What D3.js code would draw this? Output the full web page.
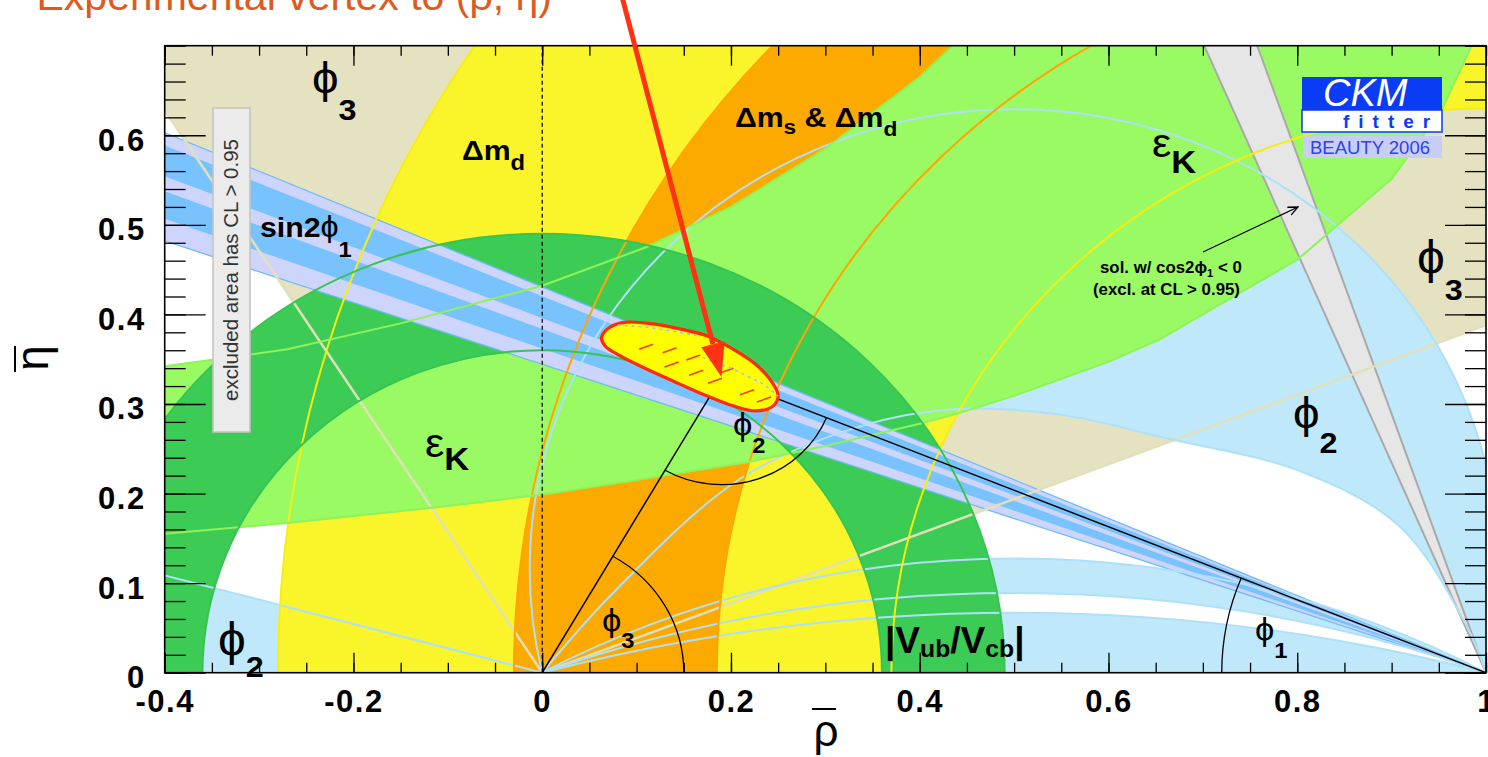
<!DOCTYPE html>
<html>
<head>
<meta charset="utf-8">
<script src="https://cdn.jsdelivr.net/npm/d3@7"></script>
<style>
html, body { margin: 0; padding: 0; background: #fff; }
svg { display: block; }
text { font-family: "Liberation Sans", Arial, Helvetica, sans-serif; }
</style>
</head>
<body>
<svg id="chart" width="1488" height="757"></svg>
<script>
// ---- axes ----
const rhoRange = [-0.4, 1.0];
const etaRange = [0, 0.7];
const rhoTicks = [-0.4, -0.2, 0, 0.2, 0.4, 0.6, 0.8, 1];
const rhoTickLabels = ["-0.4", "-0.2", "0", "0.2", "0.4", "0.6", "0.8", "1"];
const etaTicks = [0, 0.1, 0.2, 0.3, 0.4, 0.5, 0.6];
const etaTickLabels = ["0", "0.1", "0.2", "0.3", "0.4", "0.5", "0.6"];

// ---- constraints ----
const apex = [0.19, 0.33];
const dmdRadii = [0.63, 1.28];          // Δmd, around (1,0)
const dmsRadii = [0.815, 1.03];         // Δms & Δmd, around (1,0)
const vubRadii = [0.36, 0.49];          // |Vub/Vcb|, around (0,0)
const gammaRays = [21.2, 122.5];        // φ3, degrees from (0,0)
const alphaOuter = 0.629;               // φ2 big region, outer circle height at rho=0.5
const alphaInner = [[0, 0], [0.075, 0.089], [0.209, 0.216], [0.337, 0.275], [0.435, 0.294], [0.55, 0.288],
  [0.66, 0.262], [0.803, 0.225], [0.909, 0.163], [0.98, 0.051], [1, 0]];
const alphaLunes = [[0.089, 0.1275], [0, 0.067]]; // φ2 thin regions, heights at rho=0.5
const alphaWedge = [164.8, 180];        // φ2, degrees from (0,0)
const sin2b95 = [19.0, 23.3];           // sin2φ1, degrees from (1,0)
const sin2b68 = [19.9, 22.8];
const sin2bCore = [21.0, 21.6];
const sin2bAlt = [66.9, 70.9];          // cos2φ1 < 0 solution
const epsKUpper = [[-0.45, 0.335], [-0.4, 0.342], [-0.27, 0.361], [-0.15, 0.39], [0, 0.432], [0.11, 0.475],
  [0.2, 0.52], [0.3, 0.585], [0.4, 0.665], [0.44, 0.705]];
const epsKLower = [[-0.45, 0.15], [-0.4, 0.155], [-0.27, 0.167], [-0.1, 0.186], [0.008, 0.2], [0.1, 0.215],
  [0.217, 0.235], [0.3, 0.253], [0.4, 0.278], [0.442, 0.29], [0.5, 0.309], [0.6, 0.347], [0.654, 0.372],
  [0.7, 0.40], [0.8, 0.461], [0.842, 0.499], [0.9, 0.551], [0.953, 0.628], [0.985, 0.70], [1.0, 0.725]];
const fitContour = [[0.0629, 0.3745], [0.0717, 0.3857], [0.0894, 0.3913], [0.1176, 0.3894], [0.1459, 0.3838],
  [0.1742, 0.3763], [0.1988, 0.3633], [0.2235, 0.3465], [0.2412, 0.3278], [0.25, 0.3091], [0.2447, 0.2979],
  [0.2271, 0.2923], [0.2023, 0.2979], [0.1742, 0.3091], [0.1459, 0.3222], [0.1106, 0.339], [0.0823, 0.3539],
  [0.0664, 0.3651]];
const fitRedDashes = [[0.11, 0.364], [0.135, 0.360], [0.16, 0.352], [0.195, 0.337], [0.137, 0.344],
  [0.163, 0.335], [0.183, 0.326], [0.217, 0.313], [0.235, 0.305]];
const fitBlueUpper = [[0.08, 0.388], [0.11, 0.386], [0.14, 0.381], [0.165, 0.376]];
const fitBlueLower = [[0.17, 0.352], [0.2, 0.34], [0.235, 0.322], [0.25, 0.309]];
const arcRadii = { phi1: 0.28, phi2: 0.12, phi3: 0.15 };
const arrowStart = [0.084, 0.757];

const plot = { left: 164.7, right: 1486, top: 45.7, bottom: 672.7 };
const svg = d3.select("#chart");

const x = d3.scaleLinear().domain(rhoRange).range([plot.left, plot.right]);
const y = d3.scaleLinear().domain(etaRange).range([plot.bottom, plot.top]);
const kx = x(1) - x(0), ky = y(0) - y(1);
const line = d3.line().x(d => x(d[0])).y(d => y(d[1]));
const smooth = d3.line().x(d => x(d[0])).y(d => y(d[1])).curve(d3.curveCatmullRom);
const rad = Math.PI / 180;

function circ(cx, cy, r) {
  const X = x(cx), Y = y(cy), rx = r * kx, ry = r * ky;
  return `M${X + rx},${Y}A${rx},${ry} 0 1 0 ${X - rx},${Y}A${rx},${ry} 0 1 0 ${X + rx},${Y}Z`;
}
// circle through (0,0) and (1,0) with height h at rho = 0.5
function alphaCircle(h) {
  const c = (h * h - 0.25) / (2 * h);
  return circ(0.5, c, h - c);
}
function ray(v, a, R) { return [v[0] + R * Math.cos(a * rad), v[1] + R * Math.sin(a * rad)]; }
function wedge(v, a1, a2) {
  return line([v, ray(v, a1, 4), ray(v, (a1 + a2) / 2, 4), ray(v, a2, 4)]) + "Z";
}
// angles measured from the -rho direction at (1,0)
function wedgeB(a) { return wedge([1, 0], 180 - a[1], 180 - a[0]); }
function arcPath(c, r, a0, a1) {
  const p0 = ray(c, a0, r), p1 = ray(c, a1, r);
  const sweep = a1 > a0 ? 0 : 1, large = Math.abs(a1 - a0) > 180 ? 1 : 0;
  return `M${x(p0[0])},${y(p0[1])}A${r * kx},${r * ky} 0 ${large} ${sweep} ${x(p1[0])},${y(p1[1])}`;
}

svg.append("clipPath").attr("id", "plotclip").append("rect")
  .attr("x", plot.left).attr("y", plot.top)
  .attr("width", plot.right - plot.left).attr("height", plot.bottom - plot.top);

const g = svg.append("g").attr("clip-path", "url(#plotclip)");

//φ3 wedge
g.append("path").attr("d", wedge([0, 0], gammaRays[0], gammaRays[1])).attr("fill", "#e5e2c1");
//φ2 regions
g.append("path").attr("d", wedge([0, 0], alphaWedge[0], alphaWedge[1])).attr("fill", "#bfe9fb");
g.append("path").attr("d", alphaCircle(alphaOuter) + smooth(alphaInner) + "Z")
  .attr("fill", "#bfe9fb").attr("fill-rule", "evenodd");
alphaLunes.forEach(l => {
  g.append("path").attr("d", alphaCircle(l[1]) + (l[0] > 0 ? alphaCircle(l[0]) : ""))
    .attr("fill", "#bfe9fb").attr("fill-rule", "evenodd");
});
//Δmd and Δms
g.append("path").attr("d", circ(1, 0, dmdRadii[1]) + circ(1, 0, dmdRadii[0]))
  .attr("fill", "#f9f52a").attr("fill-rule", "evenodd");
g.append("path").attr("d", circ(1, 0, dmsRadii[1]) + circ(1, 0, dmsRadii[0]))
  .attr("fill", "#fdaa00").attr("fill-rule", "evenodd");
//εK band
const epsPoly = epsKUpper.concat([[0.44, 0.76], [1.05, 0.76]], epsKLower.slice().reverse());
g.append("path").attr("d", line(epsPoly) + "Z").attr("fill", "#9afa64");
//|Vub/Vcb|
g.append("path").attr("d", circ(0, 0, vubRadii[1]) + circ(0, 0, vubRadii[0]))
  .attr("fill", "#3ccc55").attr("fill-rule", "evenodd");
//sin2φ1
g.append("path").attr("d", wedgeB(sin2b95)).attr("fill", "#cdd5fd");
g.append("path").attr("d", wedgeB(sin2b68)).attr("fill", "#78c2fd");
g.append("path").attr("d", wedgeB(sin2bCore)).attr("fill", "#cdd5fd");
g.append("path").attr("d", wedgeB(sin2bAlt)).attr("fill", "#e6e6e6");

//contours
function stroke(d, color, w) {
  g.append("path").attr("d", d).attr("fill", "none").attr("stroke", color).attr("stroke-width", w);
}
sin2b95.forEach(a => stroke(line([[1, 0], ray([1, 0], 180 - a, 4)]), "#6fbaf8", 1.3));
sin2bAlt.forEach(a => stroke(line([[1, 0], ray([1, 0], 180 - a, 4)]), "#a9a9a9", 2));
gammaRays.forEach(a => stroke(line([[0, 0], ray([0, 0], a, 4)]), "#e2dfbb", 2.5));
stroke(line([[0, 0], ray([0, 0], alphaWedge[0], 4)]), "#aee0f7", 2);
stroke(alphaCircle(alphaOuter), "#aee0f7", 2);
stroke(smooth(alphaInner), "#aee0f7", 2);
alphaLunes.forEach(l => l.forEach(h => { if (h > 0) stroke(alphaCircle(h), "#aee0f7", 2); }));
dmdRadii.forEach(r => stroke(circ(1, 0, r), "#f6ee10", 2));
dmsRadii.forEach(r => stroke(circ(1, 0, r), "#ffa500", 2));
stroke(line(epsKUpper), "#8ef25a", 2);
stroke(line(epsKLower), "#8ef25a", 2);
vubRadii.forEach(r => stroke(circ(0, 0, r), "#38c452", 2));

//unitarity triangle
stroke(line([[0, 0], apex, [1, 0]]), "#000", 1.5);
stroke(arcPath([0, 0], arcRadii.phi3, 0, Math.atan2(apex[1], apex[0]) / rad), "#000", 1.3);
stroke(arcPath(apex, arcRadii.phi2, 360 + Math.atan2(-apex[1], -apex[0]) / rad,
  360 + Math.atan2(-apex[1], 1 - apex[0]) / rad), "#000", 1.3);
stroke(arcPath([1, 0], arcRadii.phi1, 180, 180 - Math.atan2(apex[1], 1 - apex[0]) / rad), "#000", 1.3);

//fit result
g.append("path").attr("d", d3.line().x(d => x(d[0])).y(d => y(d[1])).curve(d3.curveCatmullRomClosed)(fitContour))
  .attr("fill", "#ffff00").attr("stroke", "#ff2a00").attr("stroke-width", 3.2);
g.selectAll(".rd").data(fitRedDashes).enter().append("line")
  .attr("x1", d => x(d[0]) - 7).attr("y1", d => y(d[1]) + 2.5)
  .attr("x2", d => x(d[0]) + 7).attr("y2", d => y(d[1]) - 2.5)
  .attr("stroke", "#ff3a00").attr("stroke-width", 1.6);
[fitBlueUpper, fitBlueLower].forEach(p => {
  g.append("path").attr("d", line(p)).attr("fill", "none").attr("stroke", "#8ccbec")
    .attr("stroke-width", 1.6).attr("stroke-dasharray", "3 4");
});

//rho = 0 dashed line
svg.append("line").attr("x1", x(0)).attr("x2", x(0)).attr("y1", y(0)).attr("y2", y(0.7))
  .attr("stroke", "#000").attr("stroke-width", 1.2).attr("stroke-dasharray", "4 3");

// ---- axes ----
function styleAxis(sel) {
  sel.select(".domain").remove();
  sel.selectAll(".tick line").attr("stroke", "#000").attr("stroke-width", 1.3);
  sel.selectAll("text").attr("font-family", "Liberation Sans, Arial, sans-serif")
    .attr("font-weight", "bold").attr("font-size", 31).attr("letter-spacing", 1.5).attr("fill", "#000");
}
const minorRho = x.ticks(28), minorEta = y.ticks(35);
svg.append("g").attr("transform", `translate(0,${plot.bottom})`)
  .call(d3.axisBottom(x).tickValues(minorRho).tickSize(-10).tickFormat("")).call(styleAxis);
svg.append("g").attr("transform", `translate(0,${plot.bottom})`)
  .call(d3.axisBottom(x).tickValues(rhoTicks).tickSize(-20).tickPadding(17)
    .tickFormat((d, i) => rhoTickLabels[i])).call(styleAxis);
svg.append("g").attr("transform", `translate(0,${plot.top})`)
  .call(d3.axisTop(x).tickValues(minorRho).tickSize(-10).tickFormat("")).call(styleAxis);
svg.append("g").attr("transform", `translate(0,${plot.top})`)
  .call(d3.axisTop(x).tickValues(rhoTicks).tickSize(-20).tickFormat("")).call(styleAxis);
svg.append("g").attr("transform", `translate(${plot.left},0)`)
  .call(d3.axisLeft(y).tickValues(minorEta).tickSize(-21).tickFormat("")).call(styleAxis);
const yAx = svg.append("g").attr("transform", `translate(${plot.left},0)`)
  .call(d3.axisLeft(y).tickValues(etaTicks).tickSize(-41).tickPadding(19)
    .tickFormat((d, i) => etaTickLabels[i])).call(styleAxis);
yAx.selectAll("text").attr("y", 5);
svg.append("g").attr("transform", `translate(${plot.right},0)`)
  .call(d3.axisRight(y).tickValues(minorEta).tickSize(-21).tickFormat("")).call(styleAxis);
svg.append("g").attr("transform", `translate(${plot.right},0)`)
  .call(d3.axisRight(y).tickValues(etaTicks).tickSize(-41).tickFormat("")).call(styleAxis);

svg.append("rect").attr("x", plot.left).attr("y", plot.top)
  .attr("width", plot.right - plot.left).attr("height", plot.bottom - plot.top)
  .attr("fill", "none").attr("stroke", "#000").attr("stroke-width", 1.6);

// axis titles
svg.append("text").attr("x", 826).attr("y", 746).attr("text-anchor", "middle")
  .attr("font-size", 44).text("ρ");
svg.append("line").attr("x1", 812).attr("x2", 836).attr("y1", 709).attr("y2", 709)
  .attr("stroke", "#000").attr("stroke-width", 2);
svg.append("text").attr("transform", "translate(48,358) rotate(-90)").attr("text-anchor", "middle")
  .attr("font-size", 46).text("η");
svg.append("line").attr("x1", 15).attr("x2", 15).attr("y1", 346).attr("y2", 372)
  .attr("stroke", "#000").attr("stroke-width", 2);

// ---- labels ----
function label(px, py, parts, sx) {
  const t = svg.append("text").attr("transform", `translate(${px},${py}) scale(${sx || 1.08},1)`)
    .attr("fill", "#000");
  parts.forEach(p => {
    t.append("tspan").text(p[0]).attr("font-size", p[1]).attr("font-weight", p[2] ? "bold" : "normal")
      .attr("dy", p[3] || 0);
  });
  return t;
}
label(312, 93, [["ϕ", 44], ["3", 30, 1, 27]]);
label(462, 160, [["Δm", 28, 1], ["d", 22, 1, 10]]);
label(260, 237, [["sin2", 28, 1], ["ϕ", 30], ["1", 22, 1, 20]]);
label(735, 127, [["Δm", 28, 1], ["s", 21, 1, 7], [" & Δm", 28, 1, -7], ["d", 21, 1, 9]]);
label(1152, 157, [["ε", 40], ["K", 32, 1, 16]]);
label(425, 457, [["ε", 40], ["K", 32, 1, 13]]);
label(1417, 273, [["ϕ", 46], ["3", 30, 1, 27]]);
label(1293, 428, [["ϕ", 44], ["2", 30, 1, 25]]);
label(218, 655, [["ϕ", 46], ["2", 30, 1, 22]]);
label(885, 653, [["|V", 36, 1], ["ub", 24, 1, 4], ["/V", 36, 1, -4], ["cb", 24, 1, 4], ["|", 36, 1, -4]], 1.03);
label(733, 435, [["ϕ", 32], ["2", 22, 1, 18]]);
label(602, 631, [["ϕ", 32], ["3", 22, 1, 17]]);
label(1255, 640, [["ϕ", 32], ["1", 22, 1, 18]]);
label(1100, 273, [["sol. w/ cos2ϕ", 16.5, 1], ["1", 11, 1, 4], [" < 0", 16.5, 1, -4]], 1.02);
label(1093, 295, [["(excl. at CL > 0.95)", 16.5, 1]], 1.02);

// small arrow of the second solution
svg.append("defs").append("marker").attr("id", "open").attr("viewBox", "0 0 10 10")
  .attr("refX", 9).attr("refY", 5).attr("markerWidth", 9).attr("markerHeight", 9).attr("orient", "auto")
  .append("path").attr("d", "M0,1L9,5L0,9").attr("fill", "none").attr("stroke", "#000").attr("stroke-width", 1.2);
svg.append("line").attr("x1", 1203).attr("y1", 252).attr("x2", 1298).attr("y2", 207)
  .attr("stroke", "#000").attr("stroke-width", 1.2).attr("marker-end", "url(#open)");

// excluded area box
svg.append("rect").attr("x", 213).attr("y", 108).attr("width", 37).attr("height", 324)
  .attr("fill", "#ebebeb").attr("stroke", "#c2c2c2").attr("stroke-width", 1.5);
svg.append("text").attr("transform", "translate(238,270) rotate(-90)").attr("text-anchor", "middle")
  .attr("font-size", 20.5).attr("fill", "#333").text("excluded area has CL > 0.95");

// CKMfitter logo
svg.append("rect").attr("x", 1302).attr("y", 77).attr("width", 140).attr("height", 33).attr("fill", "#0a3cf5");
svg.append("text").attr("x", 1323).attr("y", 106).attr("font-size", 38).attr("font-style", "italic")
  .attr("fill", "#fff").text("CKM");
svg.append("rect").attr("x", 1302).attr("y", 110).attr("width", 140).attr("height", 22)
  .attr("fill", "#fff").attr("stroke", "#0a3cf5").attr("stroke-width", 1.5);
svg.append("text").attr("x", 1343).attr("y", 128).attr("font-size", 19).attr("font-weight", "bold")
  .attr("letter-spacing", 9).attr("fill", "#0a3cf5").text("fitter");
svg.append("rect").attr("x", 1303).attr("y", 136).attr("width", 139).attr("height", 22).attr("fill", "#c8cdf5");
svg.append("text").attr("x", 1310).attr("y", 154).attr("font-size", 18.5).attr("fill", "#2c44e8").text("BEAUTY 2006");

// title and red arrow
svg.append("text").attr("x", 552).attr("y", 10).attr("text-anchor", "end").attr("font-size", 41)
  .attr("fill", "#dd5a21").text("Experimental vertex to (ρ, η)");
const tip = [x(apex[0]), y(apex[1])], st = [x(arrowStart[0]), y(arrowStart[1])];
const len = Math.hypot(tip[0] - st[0], tip[1] - st[1]);
const u = [(tip[0] - st[0]) / len, (tip[1] - st[1]) / len], n = [-u[1], u[0]];
const base = [tip[0] - 34 * u[0], tip[1] - 34 * u[1]];
svg.append("line").attr("x1", st[0]).attr("y1", st[1]).attr("x2", base[0]).attr("y2", base[1])
  .attr("stroke", "#ff3214").attr("stroke-width", 5);
svg.append("path").attr("d", `M${tip[0]},${tip[1]}L${base[0] + 12 * n[0]},${base[1] + 12 * n[1]}L${base[0] - 12 * n[0]},${base[1] - 12 * n[1]}Z`)
  .attr("fill", "#ff3214");
</script>
</body>
</html>
